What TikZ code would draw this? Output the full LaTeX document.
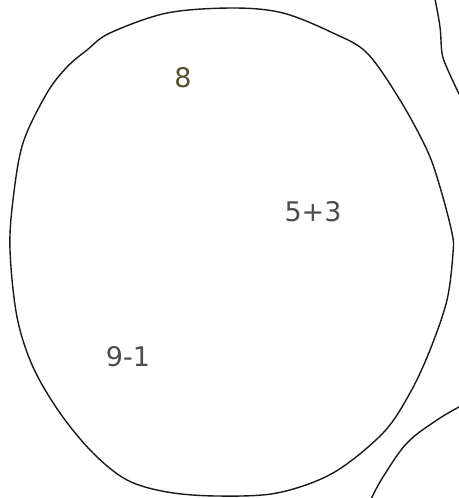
\documentclass[tikz,border=0pt]{standalone}
\usepackage{fontspec}
\setsansfont{DejaVu Sans}
\begin{document}
\begin{tikzpicture}[x=1pt,y=-1pt,
  outline/.style={line width=1.4pt,draw=black!90,line join=round,line cap=round},
  numtext/.style={font=\sffamily\fontsize{27}{29}\selectfont,text=black!70,inner sep=0pt}]
\useasboundingbox (0,0) rectangle (458,498);
\draw[outline] plot[smooth cycle,tension=0.55] coordinates {
 (233,8) (283,13) (333,33) (367,53) (400,100) (427,150) (440,187)
 (452,233) (453,253) (447,300) (430,350) (410,393) (383,433)
 (333,473) (277,493) (217,496) (167,492) (127,480) (93,453)
 (60,413) (33,367) (17,317) (10,250) (13,200) (23,143) (47,93)
 (67,67) (87,50) (110,33) (167,13)};
\draw[outline] plot[smooth,tension=0.6] coordinates {(435,-1) (440,27) (442,53) (447,68) (459,94)};
\draw[outline] plot[smooth,tension=0.6] coordinates {(371,499) (383,477) (407,443) (437,420) (459,407)};
\node[numtext,text=black!55!olive] (eight) at (183,78) {8};
\node[numtext] (fiveplusthree) at (313,212) {5+3};
\node[numtext] (nineminusone) at (128,357) {9-1};
\end{tikzpicture}
\end{document}
